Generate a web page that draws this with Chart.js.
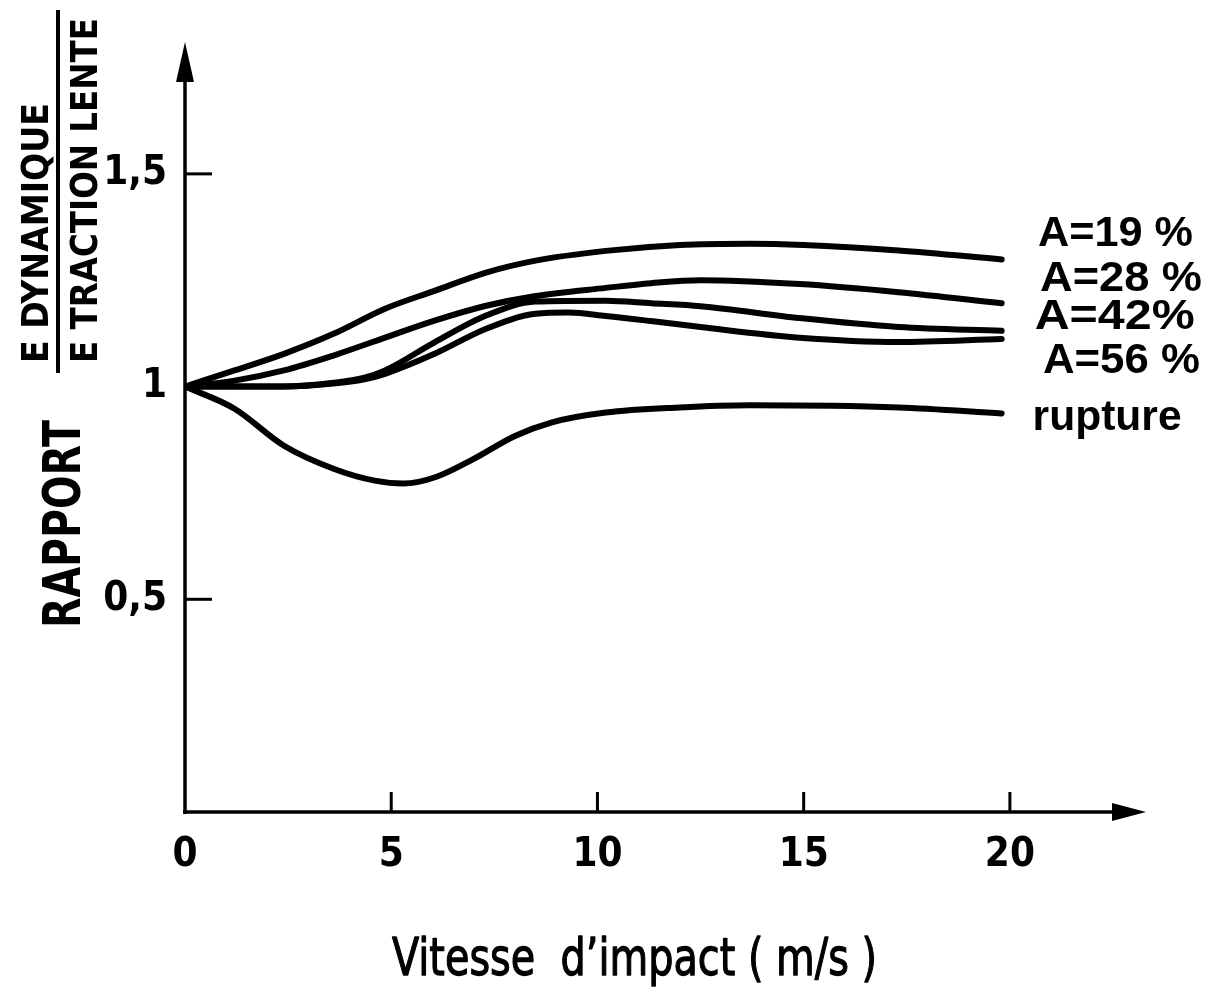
<!DOCTYPE html>
<html>
<head>
<meta charset="utf-8">
<script src="https://cdn.jsdelivr.net/npm/chart.js"></script>
<style>
  html, body { margin: 0; padding: 0; background: #fff; }
  #wrap { width: 1230px; height: 987px; position: relative; }
</style>
</head>
<body>
<div id="wrap"><canvas id="chart"></canvas></div>
<script>
// ── DATA ────────────────────────────────────────────────────
const a19x = [0, 1.2, 2.4, 3.6, 4.85, 6.05, 7.3, 8.5, 10.2, 12, 13.7, 15, 17.3, 19.8];
const a19y = [1.0, 1.038, 1.077, 1.124, 1.183, 1.225, 1.268, 1.296, 1.319, 1.333, 1.336, 1.333, 1.32, 1.299];

const a28x = [0, 1.2, 2.4, 3.6, 4.85, 6.05, 7.3, 8.5, 10.2, 11.3, 12.5, 14.9, 17.3, 19.8];
const a28y = [1.0, 1.014, 1.038, 1.073, 1.115, 1.155, 1.19, 1.213, 1.232, 1.243, 1.25, 1.241, 1.222, 1.196];

const a42x = [0, 2.4, 3.6, 4.35, 4.85, 6.05, 7.3, 8.5, 10.2, 11.3, 12.5, 14.9, 17.3, 19.8];
const a42y = [1.0, 1.0, 1.009, 1.021, 1.038, 1.104, 1.167, 1.2, 1.202, 1.196, 1.189, 1.161, 1.14, 1.131];

const a56x = [0, 2.4, 3.6, 4.35, 4.85, 6.05, 7.3, 8.5, 9.3, 10.2, 11.3, 12.5, 14.9, 17.3, 19.8];
const a56y = [1.0, 1.0, 1.007, 1.017, 1.030, 1.077, 1.136, 1.171, 1.174, 1.166, 1.154, 1.14, 1.115, 1.105, 1.112];

const rupX = [0, 1.2, 2.4, 3.6, 4.6, 5.3, 6.1, 7.0, 8.0, 8.9, 10.2, 12, 13.7, 17.3, 19.8];
const rupY = [1.0, 0.948, 0.861, 0.807, 0.779, 0.772, 0.788, 0.83, 0.884, 0.916, 0.939, 0.951, 0.956, 0.951, 0.937];

const seriesNames = ['A=19 %', 'A=28 %', 'A=42%', 'A=56 %', 'rupture'];
const xTicks = [0, 5, 10, 15, 20];
const yTicks = [0.5, 1, 1.5];

// where each curve name sits (data units: x start, text baseline) and its width in px
const labelX    = [20.68, 20.73, 20.6, 20.8, 20.55];
const labelBase = [1.331, 1.225, 1.136, 1.031, 0.897];
const labelW    = [155, 162, 160, 157, 149];

const COND = "'DejaVu Sans Condensed', 'DejaVu Sans', sans-serif";
const SANS = "'Liberation Sans', 'DejaVu Sans', sans-serif";

// draw text squeezed/stretched to a given width (optional outline to thicken strokes)
function fitText(ctx, txt, x, y, w, font, rot, thicken) {
  ctx.save();
  ctx.font = font;
  const m = ctx.measureText(txt).width;
  ctx.translate(x, y);
  if (rot) ctx.rotate(rot);
  ctx.scale(w / m, 1);
  ctx.textAlign = 'left';
  ctx.textBaseline = 'alphabetic';
  ctx.fillText(txt, 0, 0);
  if (thicken) {
    ctx.lineWidth = thicken;
    ctx.lineJoin = 'round';
    ctx.strokeText(txt, 0, 0);
  }
  ctx.restore();
}

// ── axes with arrows, tick marks, titles, curve names ───────
const figurePlugin = {
  id: 'figure',
  afterDraw(chart) {
    const { ctx, chartArea, scales } = chart;
    const xs = scales.x, ys = scales.y;
    const x0 = xs.getPixelForValue(0);
    const y0 = ys.getPixelForValue(0);
    ctx.save();
    ctx.strokeStyle = '#000';
    ctx.fillStyle = '#000';
    ctx.lineWidth = 3.5;
    ctx.lineCap = 'butt';

    // y axis + arrow
    ctx.beginPath();
    ctx.moveTo(x0, y0 + 2);
    ctx.lineTo(x0, chartArea.top + 20);
    ctx.stroke();
    ctx.beginPath();
    ctx.moveTo(x0, chartArea.top);
    ctx.lineTo(x0 - 9, chartArea.top + 40);
    ctx.lineTo(x0 + 9, chartArea.top + 40);
    ctx.closePath();
    ctx.fill();

    // x axis + arrow
    ctx.beginPath();
    ctx.moveTo(x0 - 2, y0);
    ctx.lineTo(chartArea.right - 20, y0);
    ctx.stroke();
    ctx.beginPath();
    ctx.moveTo(chartArea.right, y0);
    ctx.lineTo(chartArea.right - 34, y0 - 9);
    ctx.lineTo(chartArea.right - 34, y0 + 9);
    ctx.closePath();
    ctx.fill();

    // tick marks
    ctx.lineWidth = 3;
    xTicks.forEach(v => {
      if (v === 0) return;
      const px = xs.getPixelForValue(v);
      ctx.beginPath();
      ctx.moveTo(px, y0);
      ctx.lineTo(px, y0 - 20);
      ctx.stroke();
    });
    yTicks.forEach(v => {
      if (v === 1) return;
      const py = ys.getPixelForValue(v);
      ctx.beginPath();
      ctx.moveTo(x0, py);
      ctx.lineTo(x0 + 27, py);
      ctx.stroke();
    });

    // x title
    fitText(ctx, 'Vitesse  d\u2019impact ( m/s )', 392, 975, 485, "normal 52px 'DejaVu Sans', sans-serif", 0, 1.3);

    // y title: RAPPORT  E DYNAMIQUE / E TRACTION LENTE
    const up = -Math.PI / 2;
    fitText(ctx, 'RAPPORT', 80, 628, 208, 'bold 52px ' + COND, up);
    fitText(ctx, 'E DYNAMIQUE', 48, 363, 260, 'bold 38px ' + COND, up);
    fitText(ctx, 'E TRACTION LENTE', 97, 363, 345, 'bold 37px ' + COND, up);
    ctx.lineWidth = 4;
    ctx.beginPath();
    ctx.moveTo(58, 10);
    ctx.lineTo(58, 373);
    ctx.stroke();

    // curve names on the right
    seriesNames.forEach((name, i) => {
      const px = xs.getPixelForValue(labelX[i]);
      const py = ys.getPixelForValue(labelBase[i]);
      fitText(ctx, name, px, py, labelW[i], 'bold 42px ' + SANS);
    });

    ctx.restore();
  }
};

const curves = [[a19x, a19y], [a28x, a28y], [a42x, a42y], [a56x, a56y], [rupX, rupY]];

new Chart(document.getElementById('chart'), {
  type: 'line',
  data: {
    datasets: curves.map(([xv, yv], i) => ({
      label: seriesNames[i],
      data: xv.map((x, k) => ({ x: x, y: yv[k] })),
      borderColor: '#000',
      borderWidth: 6,
      borderCapStyle: 'round',
      borderJoinStyle: 'round',
      pointRadius: 0,
      cubicInterpolationMode: 'monotone',
      fill: false,
    }))
  },
  options: {
    responsive: true,
    maintainAspectRatio: false,
    animation: false,
    layout: { padding: { left: 0, right: 84, top: 41, bottom: 0 } },
    plugins: {
      legend: { display: false },
      tooltip: { enabled: false },
    },
    scales: {
      x: {
        type: 'linear',
        min: 0,
        max: 23.3,
        grid: { display: false, drawTicks: false },
        border: { display: false },
        afterBuildTicks: (s) => { s.ticks = xTicks.map(v => ({ value: v })); },
        afterFit: (s) => { s.height = 175; },
        ticks: {
          color: '#000',
          font: { family: COND, size: 40, weight: 'bold' },
          padding: 20,
          maxRotation: 0,
          autoSkip: false,
          callback: (v) => String(v),
        }
      },
      y: {
        type: 'linear',
        min: 0,
        max: 1.81,
        grid: { display: false, drawTicks: false },
        border: { display: false },
        afterBuildTicks: (s) => { s.ticks = yTicks.map(v => ({ value: v })); },
        afterFit: (s) => { s.width = 185; },
        ticks: {
          color: '#000',
          font: { family: COND, size: 40, weight: 'bold' },
          padding: 18,
          autoSkip: false,
          callback: (v) => String(v).replace('.', ','),
        }
      }
    }
  },
  plugins: [figurePlugin]
});
</script>
</body>
</html>
